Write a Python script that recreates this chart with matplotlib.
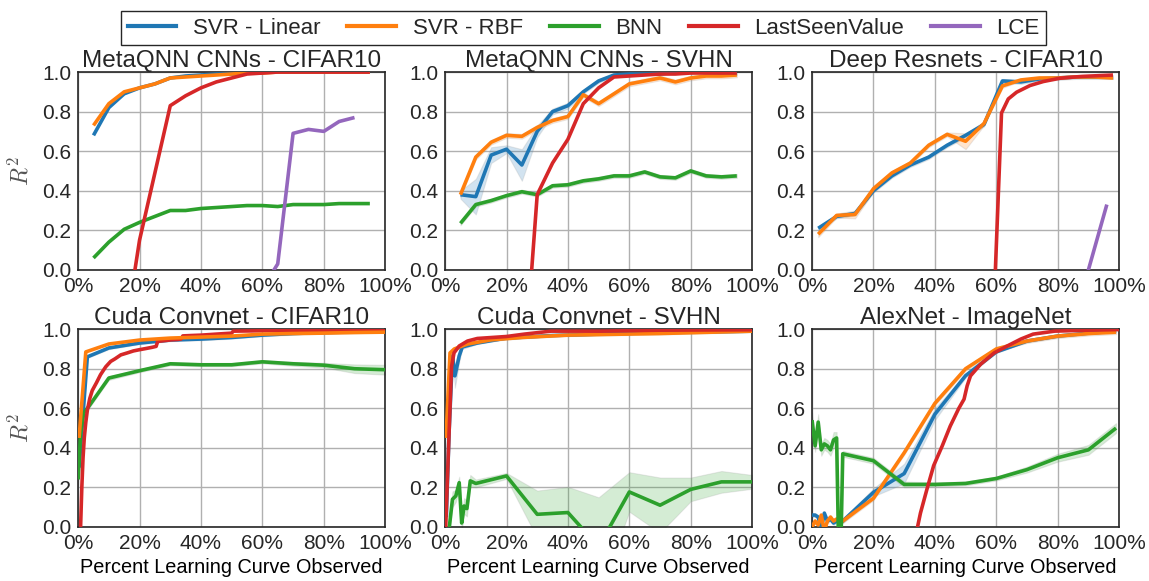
import matplotlib
matplotlib.use("Agg")
import matplotlib.pyplot as plt
from matplotlib.ticker import PercentFormatter
import numpy as np

plt.rcParams['font.family'] = ['Liberation Sans', 'DejaVu Sans']
plt.rcParams['mathtext.fontset'] = 'cm'
plt.rcParams['text.color'] = '#262626'
plt.rcParams['xtick.color'] = '#262626'
plt.rcParams['ytick.color'] = '#262626'

methods = ["SVR - Linear", "SVR - RBF", "BNN", "LastSeenValue", "LCE"]
colors = ["#1f77b4", "#ff7f0e", "#2ca02c", "#d62728", "#9467bd"]

# MetaQNN CNNs - CIFAR10
x_mq = [0.05, 0.10, 0.15, 0.20, 0.25, 0.30, 0.35, 0.40, 0.45, 0.50,
        0.55, 0.60, 0.65, 0.70, 0.75, 0.80, 0.85, 0.90, 0.95]
mqc_lin = [0.68, 0.82, 0.89, 0.92, 0.94, 0.97, 0.98, 0.985, 0.99, 0.99,
           0.995, 1.0, 1.0, 1.0, 1.0, 1.0, 1.0, 1.0, 1.0]
mqc_rbf = [0.73, 0.84, 0.90, 0.92, 0.94, 0.97, 0.975, 0.98, 0.985, 0.99,
           0.995, 0.995, 1.0, 1.0, 1.0, 1.0, 1.0, 1.0, 1.0]
mqc_bnn = [0.06, 0.14, 0.205, 0.24, 0.27, 0.30, 0.30, 0.31, 0.315, 0.32,
           0.325, 0.325, 0.32, 0.33, 0.33, 0.33, 0.335, 0.335, 0.335]
mqc_lsv_x = [0.15, 0.20, 0.25, 0.30, 0.35, 0.40, 0.45, 0.50, 0.55, 0.60,
             0.65, 0.70, 0.75, 0.80, 0.85, 0.90, 0.95]
mqc_lsv = [-0.35, 0.15, 0.49, 0.83, 0.88, 0.92, 0.95, 0.97, 0.99, 0.995,
           1.0, 1.0, 1.0, 1.0, 1.0, 1.0, 1.0]
mqc_lce_x = [0.60, 0.65, 0.70, 0.75, 0.80, 0.85, 0.90]
mqc_lce = [-0.095, 0.03, 0.69, 0.71, 0.70, 0.75, 0.77]

# MetaQNN CNNs - SVHN
mqs_lin = [0.38, 0.37, 0.58, 0.61, 0.53, 0.70, 0.80, 0.83, 0.90, 0.955,
           0.985, 0.99, 0.99, 0.99, 1.0, 1.0, 1.0, 0.995, 0.99]
mqs_lin_err = [0.02, 0.09, 0.04, 0.02, 0.08, 0.03, 0.015, 0.015, 0.01, 0.01,
               0.005, 0.005, 0.005, 0.005, 0.005, 0.005, 0.005, 0.005, 0.005]
mqs_rbf = [0.38, 0.57, 0.645, 0.68, 0.675, 0.72, 0.755, 0.775, 0.885, 0.84,
           0.89, 0.94, 0.955, 0.97, 0.95, 0.97, 0.98, 0.98, 0.985]
mqs_bnn = [0.235, 0.33, 0.35, 0.375, 0.395, 0.38, 0.425, 0.43, 0.45, 0.46,
           0.475, 0.475, 0.495, 0.47, 0.465, 0.50, 0.475, 0.47, 0.475]
mqs_lsv_x = [0.25, 0.30, 0.35, 0.40, 0.45, 0.50, 0.55, 0.60, 0.65, 0.70,
             0.75, 0.80, 0.85, 0.90, 0.95]
mqs_lsv = [-0.675, 0.38, 0.54, 0.66, 0.84, 0.92, 0.975, 0.98, 0.985, 0.99,
           0.99, 0.995, 0.995, 0.995, 0.995]

# Deep Resnets - CIFAR10
x_rn = [0.02, 0.08, 0.14, 0.20, 0.26, 0.32, 0.38, 0.44, 0.50, 0.56,
        0.62, 0.68, 0.74, 0.80, 0.86, 0.92, 0.98]
rn_lin = [0.21, 0.27, 0.285, 0.40, 0.475, 0.53, 0.57, 0.63, 0.68, 0.735,
          0.955, 0.95, 0.965, 0.97, 0.975, 0.975, 0.975]
rn_rbf = [0.18, 0.275, 0.28, 0.41, 0.49, 0.54, 0.63, 0.685, 0.65, 0.74,
          0.93, 0.96, 0.97, 0.97, 0.975, 0.975, 0.97]
rn_rbf_err = [0.015, 0.01, 0.02, 0.015, 0.01, 0.01, 0.01, 0.01, 0.04, 0.01,
              0.01, 0.005, 0.005, 0.005, 0.005, 0.005, 0.005]
rn_lsv_x = [0.56, 0.617, 0.639, 0.666, 0.71, 0.753, 0.808, 0.88, 0.98]
rn_lsv = [-1.47, 0.793, 0.864, 0.898, 0.932, 0.952, 0.969, 0.978, 0.985]
rn_lce_x = [0.84, 0.96]
rn_lce = [-0.33, 0.33]

# Cuda Convnet - CIFAR10
ccc_lin_x = [0.003, 0.03, 0.10, 0.20, 0.30, 0.40, 0.50, 0.60, 0.70, 0.80, 0.90, 1.0]
ccc_lin = [0.30, 0.86, 0.905, 0.93, 0.945, 0.95, 0.958, 0.97, 0.978, 0.983, 0.986, 0.99]
ccc_rbf_x = [0.003, 0.025, 0.10, 0.20, 0.30, 0.40, 0.50, 0.60, 0.70, 0.80, 0.90, 1.0]
ccc_rbf = [0.45, 0.885, 0.925, 0.945, 0.955, 0.96, 0.965, 0.975, 0.978, 0.98, 0.983, 0.985]
ccc_bnn_x = [0.0, 0.008, 0.018, 0.035, 0.10, 0.20, 0.30, 0.40, 0.50, 0.60, 0.70, 0.80, 0.90, 1.0]
ccc_bnn = [0.24, 0.475, 0.576, 0.61, 0.753, 0.79, 0.825, 0.82, 0.82, 0.835, 0.825, 0.818, 0.80, 0.795]
ccc_bnn_err = [0.03, 0.02, 0.01, 0.01, 0.01, 0.008, 0.008, 0.008, 0.008, 0.008, 0.01, 0.012, 0.022, 0.025]
ccc_lsv_x = [0.008, 0.012, 0.016, 0.02, 0.025, 0.03, 0.038, 0.046, 0.06, 0.073,
             0.09, 0.106, 0.12, 0.139, 0.16, 0.18, 0.199, 0.22, 0.24, 0.254,
             0.259, 0.28, 0.303, 0.325, 0.335, 0.341, 0.37, 0.402, 0.45, 0.50,
             0.505, 0.60, 0.70, 0.80, 0.90, 1.0]
ccc_lsv = [0.0, 0.2, 0.35, 0.45, 0.53, 0.59, 0.65, 0.69, 0.73, 0.77,
           0.81, 0.837, 0.85, 0.87, 0.88, 0.89, 0.896, 0.902, 0.908, 0.913,
           0.938, 0.942, 0.946, 0.948, 0.95, 0.966, 0.968, 0.97, 0.975, 0.98,
           0.99, 0.992, 0.994, 0.995, 0.996, 0.997]

# Cuda Convnet - SVHN
ccs_lin_x = [0.004, 0.013, 0.024, 0.032, 0.046, 0.056, 0.105, 0.20, 0.35, 0.50, 0.70, 1.0]
ccs_lin = [0.05, 0.48, 0.865, 0.764, 0.865, 0.91, 0.93, 0.955, 0.968, 0.975, 0.983, 0.99]
ccs_lin_err = [0.02, 0.03, 0.02, 0.06, 0.03, 0.01, 0.005, 0.005, 0.005, 0.005, 0.005, 0.005]
ccs_rbf_x = [0.003, 0.016, 0.03, 0.073, 0.15, 0.25, 0.40, 0.70, 1.0]
ccs_rbf = [0.45, 0.88, 0.90, 0.925, 0.946, 0.958, 0.97, 0.978, 0.99]
ccs_bnn_x = [0.005, 0.024, 0.035, 0.046, 0.054, 0.062, 0.071, 0.082, 0.10,
             0.20, 0.30, 0.40, 0.50, 0.60, 0.70, 0.80, 0.90, 1.0]
ccs_bnn = [-0.12, 0.14, 0.157, 0.224, 0.02, 0.106, 0.093, 0.233, 0.22,
           0.258, 0.064, 0.073, -0.10, 0.177, 0.11, 0.19, 0.228, 0.228]
ccs_bnn_err = [0.02, 0.04, 0.03, 0.03, 0.04, 0.04, 0.04, 0.03, 0.02,
               0.015, 0.12, 0.13, 0.25, 0.10, 0.14, 0.06, 0.055, 0.035]
ccs_lsv_x = [0.002, 0.013, 0.021, 0.029, 0.046, 0.073, 0.105, 0.20, 0.258, 0.345,
             0.40, 0.508, 0.70, 1.0]
ccs_lsv = [0.0, 0.477, 0.81, 0.88, 0.915, 0.94, 0.953, 0.963, 0.975, 0.99,
           0.99, 0.99, 0.995, 0.997]

# AlexNet - ImageNet
x_ax = [0.0, 0.01, 0.02, 0.03, 0.04, 0.05, 0.06, 0.07, 0.08, 0.09, 0.10,
        0.20, 0.30, 0.40, 0.50, 0.60, 0.70, 0.80, 0.90, 0.99]
ax_lin = [0.06, 0.06, 0.05, -0.01, 0.07, 0.03, 0.04, 0.02, 0.03, 0.02, 0.03,
          0.175, 0.27, 0.57, 0.765, 0.885, 0.94, 0.965, 0.98, 0.99]
ax_lin_err = [0.01, 0.01, 0.01, 0.01, 0.01, 0.01, 0.01, 0.01, 0.01, 0.01, 0.01,
              0.02, 0.05, 0.03, 0.01, 0.005, 0.005, 0.005, 0.005, 0.005]
ax_rbf = [0.0, 0.03, 0.01, 0.06, -0.02, 0.03, 0.05, 0.03, 0.04, 0.03, 0.03,
          0.145, 0.375, 0.625, 0.80, 0.90, 0.94, 0.965, 0.978, 0.985]
ax_bnn = [0.54, 0.41, 0.53, 0.39, 0.42, 0.41, 0.39, 0.44, 0.45, -0.40, 0.37,
          0.335, 0.215, 0.215, 0.22, 0.245, 0.29, 0.35, 0.39, 0.50]
ax_bnn_err = [0.04, 0.03, 0.04, 0.03, 0.03, 0.03, 0.03, 0.04, 0.03, 0.03, 0.015,
              0.015, 0.015, 0.01, 0.01, 0.01, 0.015, 0.02, 0.025, 0.025]
ax_lsv_x = [0.33, 0.353, 0.374, 0.396, 0.424, 0.45, 0.478, 0.495, 0.505, 0.516,
            0.549, 0.593, 0.637, 0.68, 0.72, 0.79, 0.90, 1.0]
ax_lsv = [-0.1, 0.07, 0.19, 0.31, 0.41, 0.51, 0.60, 0.646, 0.713, 0.764,
          0.823, 0.88, 0.916, 0.95, 0.975, 0.99, 0.995, 0.998]

# (title, [(method index, x, y, err or None), ...])
panels = [
    ("MetaQNN CNNs - CIFAR10", [(0, x_mq, mqc_lin, None), (1, x_mq, mqc_rbf, None),
                                (2, x_mq, mqc_bnn, None), (3, mqc_lsv_x, mqc_lsv, None),
                                (4, mqc_lce_x, mqc_lce, None)]),
    ("MetaQNN CNNs - SVHN", [(0, x_mq, mqs_lin, mqs_lin_err), (1, x_mq, mqs_rbf, 0.012),
                             (2, x_mq, mqs_bnn, 0.01), (3, mqs_lsv_x, mqs_lsv, None)]),
    ("Deep Resnets - CIFAR10", [(0, x_rn, rn_lin, 0.01), (1, x_rn, rn_rbf, rn_rbf_err),
                                (3, rn_lsv_x, rn_lsv, None), (4, rn_lce_x, rn_lce, None)]),
    ("Cuda Convnet - CIFAR10", [(0, ccc_lin_x, ccc_lin, 0.006), (2, ccc_bnn_x, ccc_bnn, ccc_bnn_err),
                                (3, ccc_lsv_x, ccc_lsv, None), (1, ccc_rbf_x, ccc_rbf, None)]),
    ("Cuda Convnet - SVHN", [(0, ccs_lin_x, ccs_lin, ccs_lin_err), (1, ccs_rbf_x, ccs_rbf, 0.005),
                             (2, ccs_bnn_x, ccs_bnn, ccs_bnn_err), (3, ccs_lsv_x, ccs_lsv, None)]),
    ("AlexNet - ImageNet", [(0, x_ax, ax_lin, ax_lin_err), (1, x_ax, ax_rbf, 0.01),
                            (2, x_ax, ax_bnn, ax_bnn_err), (3, ax_lsv_x, ax_lsv, None)]),
]

fig, axs = plt.subplots(2, 3, figsize=(11.49, 5.81), dpi=100)
fig.subplots_adjust(left=0.068, right=0.974, top=0.876, bottom=0.093,
                    wspace=0.195, hspace=0.30)

for ax, (title, series) in zip(axs.flat, panels):
    for idx, x, y, err in series:
        x = np.asarray(x)
        y = np.asarray(y)
        if err is not None:
            e = np.broadcast_to(np.asarray(err, dtype=float), y.shape)
            ax.fill_between(x, y - e, y + e, color=colors[idx], alpha=0.2,
                            edgecolor='0.6', linewidth=0.8, zorder=2)
        ax.plot(x, y, color=colors[idx], lw=2.6, zorder=3, solid_capstyle='butt')
    ax.set_xlim(0, 1)
    ax.set_ylim(0, 1)
    ax.set_xticks(np.linspace(0, 1, 6))
    ax.set_yticks(np.linspace(0, 1, 6))
    ax.xaxis.set_major_formatter(PercentFormatter(1.0, decimals=0))
    ax.yaxis.set_major_formatter(matplotlib.ticker.FormatStrFormatter('%.1f'))
    ax.tick_params(length=0, labelsize=15, pad=5)
    ax.grid(True, color='#b0b0b0', lw=1.0, zorder=0)
    ax.set_axisbelow(True)
    for s in ax.spines.values():
        s.set_color('#262626')
        s.set_linewidth(1.2)
    ax.set_title(title, fontsize=17.5, pad=1)

for ax in axs[:, 0]:
    ax.set_ylabel("$R^2$", fontsize=17, color='#555555', labelpad=6)
for ax in axs[1, :]:
    ax.set_xlabel("Percent Learning Curve Observed", fontsize=14.3, labelpad=4)

handles = [plt.Line2D([], [], color=c, lw=3) for c in colors]
fig.legend(handles, methods, loc='upper center', bbox_to_anchor=(0.508, 1.0),
           ncol=5, fontsize=16, fancybox=False, edgecolor='#262626',
           handlelength=2.2, handletextpad=0.75, columnspacing=1.2,
           borderpad=0.3, framealpha=1)

fig.savefig("out.png", dpi=100)
